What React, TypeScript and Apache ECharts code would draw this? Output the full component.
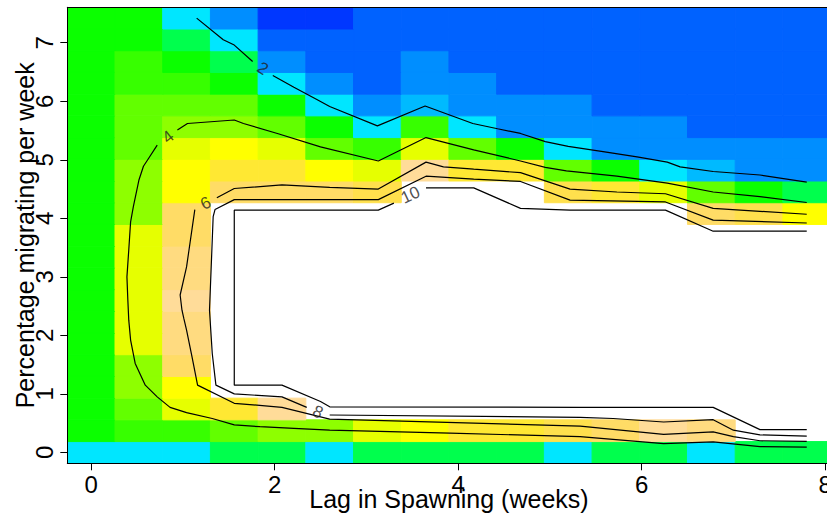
import React, { useEffect, useRef } from "react";
import * as echarts from "echarts";

// ---- grid coordinates (cell centres) ----
const lagWeeks = [0, 0.52, 1.04, 1.56, 2.08, 2.6, 3.12, 3.64, 4.16, 4.68, 5.2, 5.72, 6.24, 6.76, 7.28, 7.8];
const pctMigrating = [0, 0.371, 0.742, 1.113, 1.484, 1.855, 2.226, 2.597, 2.968, 3.339, 3.71, 4.081, 4.452, 4.823, 5.194, 5.565, 5.936, 6.307, 6.678, 7.049, 7.42];
const xStep = 0.52;
const yStep = 0.371;

// ---- surface values, one row per pctMigrating value (bottom row first) ----
const z00 = [2.5, 2.5, 2.5, 2.83, 2.83, 2.5, 2.83, 2.83, 2.83, 2.83, 2.5, 2.83, 2.83, 2.5, 2.83, 2.83];
const z01 = [3.5, 3.83, 3.83, 4.17, 4.5, 4.5, 5.17, 5.5, 6.17, 6.17, 6.5, 6.83, 7.5, 7.17, 9, 9];
const z02 = [3.5, 4.17, 5.17, 6.17, 7.5, 9, 9, 9, 9, 9, 9, 9, 9, 9, 11, 11];
const z03 = [3.5, 4.5, 5.5, 9, 9, 11, 11, 11, 11, 11, 11, 11, 11, 11, 11, 11];
const z04 = [3.5, 4.5, 6.83, 10, 11, 11, 11, 11, 11, 11, 11, 11, 11, 11, 11, 11];
const z05 = [3.5, 5.17, 7.17, 10, 11, 11, 11, 11, 11, 11, 11, 11, 11, 11, 11, 11];
const z06 = [3.5, 5.17, 7.17, 10, 11, 11, 11, 11, 11, 11, 11, 11, 11, 11, 11, 11];
const z07 = [3.5, 5.17, 7.5, 10, 11, 11, 11, 11, 11, 11, 11, 11, 11, 11, 11, 11];
const z08 = [3.5, 5.17, 7.17, 10, 11, 11, 11, 11, 11, 11, 11, 11, 11, 11, 11, 11];
const z09 = [3.5, 5.17, 7.17, 10, 11, 11, 11, 11, 11, 11, 11, 11, 11, 11, 11, 11];
const z10 = [3.5, 5.17, 6.83, 10, 11, 11, 11, 11, 11, 11, 11, 11, 11, 11, 11, 11];
const z11 = [3.5, 4.5, 6.83, 10, 11, 11, 11, 11, 11, 11, 11, 11, 11, 6.83, 6.5, 5.5];
const z12 = [3.5, 4.5, 5.5, 6.83, 6.83, 6.83, 6.5, 11, 11, 9, 6.5, 6.17, 5.17, 4.17, 3.5, 2.83];
const z13 = [3.5, 4.5, 5.5, 6.17, 6.17, 5.5, 5.17, 7.5, 6.17, 6.17, 4.17, 3.5, 2.5, 2.17, 1.83, 1.83];
const z14 = [3.5, 4.17, 5.17, 5.5, 5.17, 4.17, 3.83, 5.17, 4.17, 3.5, 2.5, 1.83, 1.83, 1.83, 1.83, 1.83];
const z15 = [3.5, 4.17, 4.5, 4.5, 4.17, 3.5, 2.5, 3.83, 2.5, 1.83, 1.83, 1.83, 1.83, 1.5, 1.5, 1.5];
const z16 = [3.5, 4.17, 4.17, 4.17, 3.5, 2.5, 1.83, 2.17, 1.83, 1.83, 1.83, 1.5, 1.5, 1.5, 1.5, 1.5];
const z17 = [3.5, 3.83, 3.83, 3.5, 2.5, 1.83, 1.5, 1.83, 1.83, 1.5, 1.5, 1.5, 1.5, 1.5, 1.5, 1.5];
const z18 = [3.5, 3.83, 3.5, 2.83, 1.83, 1.5, 1.5, 1.83, 1.5, 1.5, 1.5, 1.5, 1.5, 1.5, 1.5, 1.5];
const z19 = [3.5, 3.5, 2.83, 2.5, 1.5, 1.5, 1.5, 1.5, 1.5, 1.5, 1.5, 1.5, 1.5, 1.5, 1.5, 1.5];
const z20 = [3.5, 3.5, 2.5, 1.83, 1.17, 1.17, 1.5, 1.5, 1.5, 1.5, 1.5, 1.5, 1.5, 1.5, 1.5, 1.5];
const zRows = [z00, z01, z02, z03, z04, z05, z06, z07, z08, z09, z10, z11, z12, z13, z14, z15, z16, z17, z18, z19, z20];

// colour scale: topo colours, 24 bins between zMin and zMax (values above zMax are left blank)
const zMin = 0;
const zMax = 8;
const topoColors = [
  "#4C00FF", "#2100FF", "#000BFF", "#0037FF", "#0062FF", "#008EFF", "#00BAFF", "#00E6FF",
  "#00FF4D", "#00FF21", "#0BFF00", "#37FF00", "#62FF00", "#8EFF00", "#BAFF00", "#E6FF00",
  "#FFFF00", "#FFF21A", "#FFE833", "#FFE04D", "#FFDC66", "#FFDB80", "#FFDC99", "#FFE0B3",
];

// ---- contour lines (data coordinates), split where labels sit ----
const contour2a = [[1.15, 7.42], [1.44, 7.05], [1.56, 6.96], [1.76, 6.68]];
const contour2b = [[1.98, 6.44], [2.21, 6.24], [2.46, 6.03], [2.6, 5.91], [3.12, 5.58], [3.64, 5.92], [4.16, 5.62], [4.43, 5.53], [4.68, 5.45], [4.95, 5.31], [5.2, 5.23], [5.58, 5.14], [5.95, 5.05], [6.28, 4.96], [6.42, 4.88], [6.78, 4.8], [7.29, 4.74], [7.8, 4.62]];
const contour4a = [[0.72, 5.25], [0.62, 5.01], [0.57, 4.89], [0.52, 4.65], [0.46, 4.2], [0.43, 3.94], [0.41, 3.46], [0.39, 3.0], [0.4, 2.6], [0.41, 2.26], [0.43, 1.92], [0.48, 1.52], [0.59, 1.15], [0.72, 0.95], [0.86, 0.77], [1.04, 0.68], [1.32, 0.58], [1.56, 0.47], [1.84, 0.44], [2.21, 0.41], [2.6, 0.38], [3.91, 0.33], [5.33, 0.27], [6.24, 0.15], [6.78, 0.18], [7.29, 0.1], [7.8, 0.09]];
const contour4b = [[0.94, 5.51], [1.05, 5.62], [1.56, 5.68], [1.66, 5.62], [2.03, 5.45], [2.5, 5.22], [3.13, 4.98], [3.65, 5.38], [4.17, 5.17], [4.68, 4.98], [4.95, 4.87], [5.18, 4.81], [5.73, 4.72], [6.28, 4.6], [6.78, 4.45], [7.29, 4.37], [7.8, 4.27]];
const contour6a = [[1.13, 4.15], [1.04, 3.17], [0.97, 2.69], [0.99, 2.43], [1.01, 2.29], [1.04, 2.09], [1.1, 1.63], [1.16, 1.15], [1.56, 0.84], [2.08, 0.77], [2.6, 0.57], [5.33, 0.45], [6.24, 0.31], [6.78, 0.35], [7.0, 0.27], [7.29, 0.2], [7.8, 0.19]];
const contour6b = [[1.37, 4.35], [1.56, 4.51], [2.08, 4.57], [2.6, 4.53], [3.13, 4.5], [3.65, 4.96], [3.84, 4.88], [4.17, 4.84], [4.68, 4.78], [5.22, 4.5], [5.73, 4.45], [6.26, 4.42], [6.78, 4.17], [7.29, 4.12], [7.8, 4.07]];
const contour8a = [[7.8, 3.92], [6.78, 3.97], [6.26, 4.28], [5.22, 4.31], [4.68, 4.63], [4.17, 4.67], [3.65, 4.72], [3.13, 4.32], [2.6, 4.32], [1.56, 4.32], [1.35, 4.15], [1.33, 4.03], [1.29, 2.43], [1.32, 1.69], [1.36, 1.15], [1.56, 1.0], [2.08, 0.95], [2.35, 0.77]];
const contour8b = [[2.6, 0.64], [5.33, 0.6], [5.69, 0.58], [6.24, 0.52], [6.78, 0.56], [7.0, 0.38], [7.29, 0.3], [7.8, 0.28]];
const contour10a = [[7.8, 3.78], [6.78, 3.78], [6.26, 4.14], [5.22, 4.14], [4.68, 4.17], [4.17, 4.52], [3.65, 4.52]];
const contour10b = [[3.3, 4.26], [3.13, 4.14], [2.6, 4.14], [1.56, 4.14], [1.56, 1.15], [2.08, 1.15], [2.5, 0.87], [2.6, 0.78], [5.33, 0.77], [6.78, 0.77], [7.29, 0.39], [7.8, 0.39]];
const contourLines = [contour2a, contour2b, contour4a, contour4b, contour6a, contour6b, contour8a, contour8b, contour10a, contour10b];

// contour labels: [x, y, level, angle]
const contourLabels = [
  [1.87, 6.56, "2", -33],
  [0.84, 5.39, "4", 38],
  [1.25, 4.26, "6", 27],
  [2.47, 0.69, "8", -25],
  [3.48, 4.4, "10", 25],
];

const xTicks = [0, 2, 4, 6, 8];
const yTicks = [0, 1, 2, 3, 4, 5, 6, 7];
const xTitle = "Lag in Spawning (weeks)";
const yTitle = "Percentage migrating per week";

const FONT = "'Liberation Sans', Arial, Helvetica, sans-serif";

function colourFor(z: number): string | null {
  if (z > zMax || z < zMin) return null;
  const n = topoColors.length;
  let k = Math.floor(((z - zMin) / (zMax - zMin)) * n);
  if (k >= n) k = n - 1;
  return topoColors[k];
}

export default function App() {
  const ref = useRef<HTMLDivElement>(null);
  useEffect(() => {
    if (!ref.current) return;
    const chart = echarts.init(ref.current, undefined, { renderer: "svg" });
    const cells: number[][] = [];
    zRows.forEach((row, j) => {
      row.forEach((v, i) => cells.push([lagWeeks[i], pctMigrating[j], v]));
    });
    const xMin = lagWeeks[0] - xStep / 2;
    const xMax = lagWeeks[lagWeeks.length - 1] + xStep / 2;
    const yMin = pctMigrating[0] - yStep / 2;
    const yMax = pctMigrating[pctMigrating.length - 1] + yStep / 2;

    const lineSeries = contourLines.map((pts) => ({
      type: "line",
      data: pts,
      symbol: "none",
      smooth: false,
      z: 5,
      lineStyle: { color: "#000", width: 1.2 },
      silent: true,
    }));

    chart.setOption({
      animation: false,
      grid: { left: 67.3, top: 7.3, width: 763.3, height: 456, containLabel: false, outerBoundsMode: "none" },
      xAxis: [
        {
          type: "value",
          min: xMin,
          max: xMax,
          position: "bottom",
          z: 10,
          axisLine: { show: true, onZero: false, lineStyle: { color: "#000", width: 1 } },
          axisTick: { show: true, length: 7, inside: false, customValues: xTicks, lineStyle: { color: "#000", width: 1 } },
          axisLabel: { show: true, customValues: xTicks, color: "#000", fontSize: 24, fontFamily: FONT, margin: 9 },
          splitLine: { show: false },
          name: xTitle,
          nameLocation: "middle",
          nameGap: 23,
          nameMoveOverlap: false,
          nameTextStyle: { color: "#000", fontSize: 25, fontFamily: FONT },
        },
        {
          type: "value",
          min: xMin,
          max: xMax,
          position: "top",
          z: 10,
          axisLine: { show: true, onZero: false, lineStyle: { color: "#000", width: 1 } },
          axisTick: { show: false },
          axisLabel: { show: false },
          splitLine: { show: false },
        },
      ],
      yAxis: {
        type: "value",
        min: yMin,
        max: yMax,
        z: 10,
        axisLine: { show: true, onZero: false, lineStyle: { color: "#000", width: 1 } },
        axisTick: { show: true, length: 7, inside: false, customValues: yTicks, lineStyle: { color: "#000", width: 1 } },
        axisLabel: { show: true, customValues: yTicks, rotate: 90, color: "#000", fontSize: 24, fontFamily: FONT, margin: 11 },
        splitLine: { show: false },
        name: yTitle,
        nameLocation: "middle",
        nameRotate: 90,
        nameGap: 30,
        nameMoveOverlap: false,
        nameTextStyle: { color: "#000", fontSize: 25, fontFamily: FONT },
      },
      series: [
        {
          type: "custom",
          clip: true,
          z: 1,
          silent: true,
          data: cells,
          renderItem: (params: any, api: any) => {
            const x = api.value(0);
            const y = api.value(1);
            const c = colourFor(api.value(2));
            if (!c) return null;
            const p0 = api.coord([x - xStep / 2, y + yStep / 2]);
            const p1 = api.coord([x + xStep / 2, y - yStep / 2]);
            return {
              type: "rect",
              shape: { x: p0[0], y: p0[1], width: p1[0] - p0[0], height: p1[1] - p0[1] },
              style: { fill: c, stroke: c, lineWidth: 1 },
            };
          },
        },
        ...lineSeries,
        {
          type: "scatter",
          z: 6,
          silent: true,
          symbolSize: 0.01,
          itemStyle: { color: "rgba(0,0,0,0)" },
          data: contourLabels.map((l) => ({
            value: [l[0], l[1]],
            label: { formatter: String(l[2]), rotate: l[3] },
          })),
          label: { show: true, position: "inside", color: "#222", fontSize: 17, fontFamily: FONT },
        },
      ],
    });
    return () => chart.dispose();
  }, []);
  return (
    <div style={{ position: "fixed", left: 0, top: 0, width: 827, height: 520, overflow: "hidden", background: "#fff" }}>
      <div ref={ref} style={{ width: 840, height: 520 }} />
    </div>
  );
}
